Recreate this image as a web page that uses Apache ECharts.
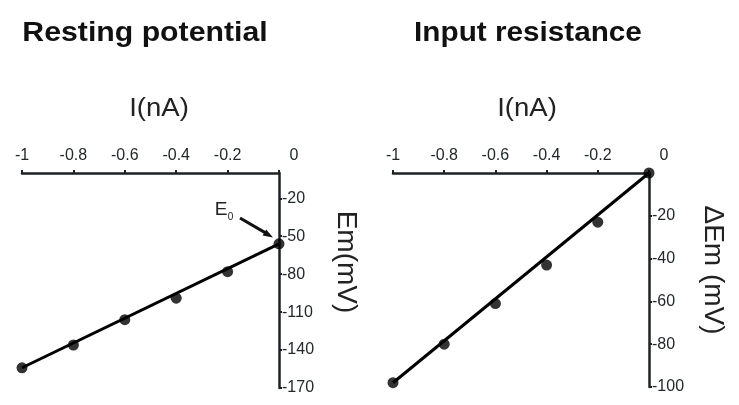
<!DOCTYPE html>
<html>
<head>
<meta charset="utf-8">
<script src="https://cdn.jsdelivr.net/npm/echarts@6/dist/echarts.min.js"></script>
<style>
  html, body { margin: 0; padding: 0; background: #fff; }
  #chart { width: 739px; height: 405px; }
</style>
</head>
<body>
<div id="chart"></div>
<script>
// Injected current (nA) and the membrane responses (mV)
const currentNA = [-1, -0.8, -0.6, -0.4, -0.2, 0];
const restingEm = [-154, -136, -116, -99, -78, -56];
const deltaEm   = [-98, -80, -61, -43, -23, 0];

// Tick labels
const currentTicks = [-1, -0.8, -0.6, -0.4, -0.2, 0];
const restingTicks = [-20, -50, -80, -110, -140, -170];
const deltaTicks   = [-20, -40, -60, -80, -100];

// Straight-line fits: Em = E0 + R * I  (mV, MΩ)
const restingFit = { e0: -56, r: 98 };
const inputFit   = { e0: 0,   r: 98 };
const fitRange   = [-1, 0];

const fitLine = f => fitRange.map(x => [x, f.e0 + f.r * x]);
const pairs = ys => currentNA.map((x, i) => [x, ys[i]]);

const INK = '#1c2225';
const LABEL = '#23282a';
const FONT = 'Arial, "Liberation Sans", sans-serif';

function xAxisFor(gridIndex) {
  return {
    type: 'value', gridIndex, position: 'top',
    min: -1, max: 0,
    axisLine: { show: true, onZero: false, lineStyle: { color: INK, width: 2.5 } },
    axisTick: { show: true, length: 3, customValues: currentTicks, lineStyle: { color: INK, width: 2 } },
    axisLabel: {
      show: true, margin: 9, fontSize: 16, color: LABEL, fontFamily: FONT,
      customValues: currentTicks,
      formatter: v => v === 0 ? '{z|0}' : String(v),
      rich: { z: { fontSize: 16, color: LABEL, fontFamily: FONT, padding: [0, 0, 0, 30] } }
    },
    splitLine: { show: false }
  };
}

function yAxisFor(gridIndex, min, ticks) {
  return {
    type: 'value', gridIndex, position: 'right',
    min, max: 0,
    axisLine: { show: true, onZero: false, lineStyle: { color: INK, width: 2.5 } },
    axisTick: { show: true, length: 3, customValues: ticks, lineStyle: { color: INK, width: 2 } },
    axisLabel: { show: true, margin: 3, fontSize: 16, color: LABEL, fontFamily: FONT, customValues: ticks },
    splitLine: { show: false }
  };
}

function textEl(text, x, y, size, opts = {}) {
  return {
    type: 'text', x, y,
    rotation: opts.rotation || 0,
    scaleX: opts.scaleX || 1,
    style: {
      text, fill: opts.color || '#111',
      fontSize: size, fontWeight: opts.bold ? 'bold' : 'normal', fontFamily: FONT,
      align: 'center', verticalAlign: 'middle',
      textAlign: 'center', textVerticalAlign: 'middle'
    }
  };
}

const chart = echarts.init(document.getElementById('chart'), null, { renderer: 'canvas' });

chart.setOption({
  animation: false,
  backgroundColor: '#fff',
  grid: [
    { left: 22,  top: 173, width: 257, height: 215 },
    { left: 393, top: 173, width: 256, height: 214 }
  ],
  xAxis: [xAxisFor(0), xAxisFor(1)],
  yAxis: [yAxisFor(0, -170, restingTicks), yAxisFor(1, -100, deltaTicks)],
  series: [
    {
      type: 'line', xAxisIndex: 0, yAxisIndex: 0, data: fitLine(restingFit),
      showSymbol: false, lineStyle: { color: '#000', width: 3 }, z: 3
    },
    {
      type: 'scatter', xAxisIndex: 0, yAxisIndex: 0, data: pairs(restingEm),
      symbolSize: 11, itemStyle: { color: '#000' }, z: 4
    },
    {
      type: 'line', xAxisIndex: 1, yAxisIndex: 1, data: fitLine(inputFit),
      showSymbol: false, lineStyle: { color: '#000', width: 3 }, z: 3
    },
    {
      type: 'scatter', xAxisIndex: 1, yAxisIndex: 1, data: pairs(deltaEm),
      symbolSize: 11, itemStyle: { color: '#000' }, z: 4
    }
  ],
  graphic: [
    textEl('Resting potential', 145, 34, 27, { bold: true, scaleX: 1.12 }),
    textEl('Input resistance', 528, 34, 27, { bold: true, scaleX: 1.1 }),
    textEl('I(nA)', 159, 109, 25, { scaleX: 1.1, color: '#222' }),
    textEl('I(nA)', 527, 109, 25, { scaleX: 1.1, color: '#222' }),
    textEl('Em(mV)', 346, 262, 28, { rotation: -Math.PI / 2, color: '#222' }),
    textEl('ΔEm (mV)', 713, 270, 28, { rotation: -Math.PI / 2, color: '#222' }),
    // E0 annotation with arrow to the zero-current point
    textEl('E', 221, 210, 19, { color: '#222' }),
    textEl('0', 230.5, 217, 10, { color: '#222' }),
    {
      type: 'line',
      shape: { x1: 240, y1: 218, x2: 265.5, y2: 232.9 },
      style: { stroke: '#111', lineWidth: 3 }
    },
    {
      type: 'polygon',
      shape: { points: [[273, 237.5], [262.6, 235.4], [266.2, 229.4]] },
      style: { fill: '#111' }
    }
  ]
});
</script>
</body>
</html>
